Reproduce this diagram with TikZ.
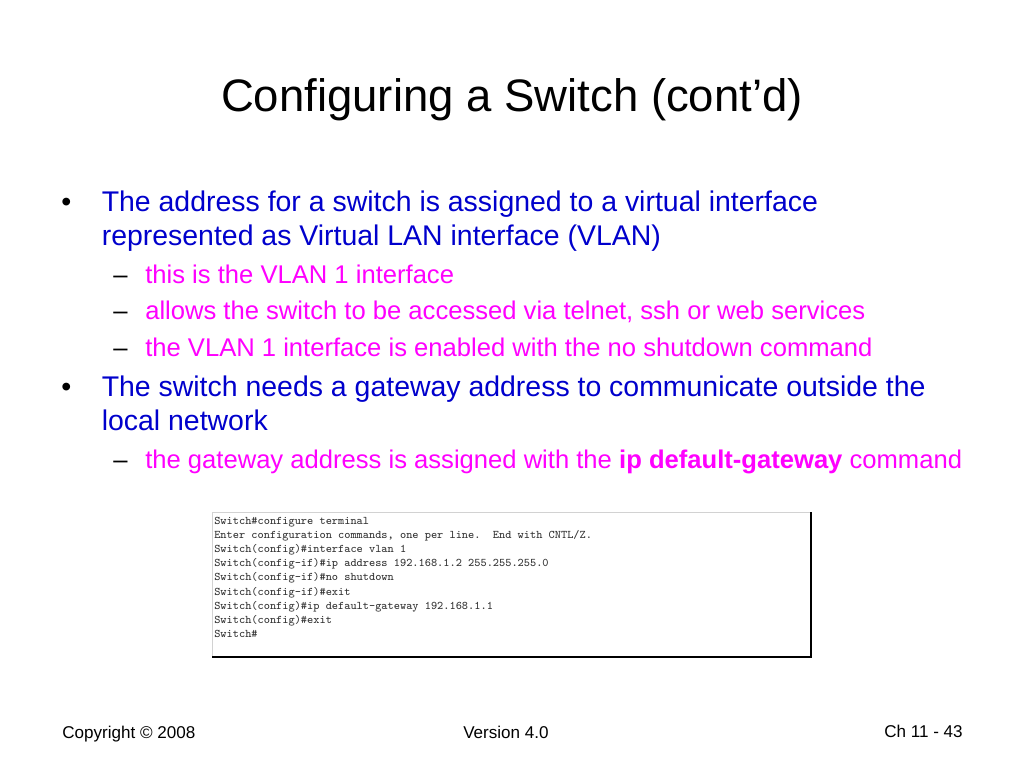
\documentclass[tikz,border=0pt]{standalone}
\usepackage{fontspec}
\setmainfont{Liberation Sans}
\usepackage{xcolor}
\definecolor{PtBlue}{RGB}{0,0,204}
\definecolor{SubPink}{RGB}{255,0,255}
\definecolor{TermGray}{RGB}{50,50,50}

\begin{document}
\begin{tikzpicture}[x=0.703125pt,y=-0.703125pt,
    every node/.style={inner sep=0pt,anchor=base west},
    titletext/.style={font=\fontsize{32}{38}\selectfont,anchor=base},
    pttext/.style={font=\fontsize{20}{24}\selectfont,text=PtBlue},
    ptmark/.style={font=\fontsize{20}{24}\selectfont},
    subtext/.style={font=\fontsize{18}{22}\selectfont,text=SubPink},
    submark/.style={font=\fontsize{18}{22}\selectfont},
    foottext/.style={font=\fontsize{12}{14}\selectfont},
    termline/.style={font=\ttfamily\fontsize{8.2}{10}\selectfont,text=TermGray}]
    \fill[white] (0,0) rectangle (1024,768);
    \useasboundingbox (0,0) rectangle (1024,768);

    \node[titletext] (title) at (512,112) {Configuring a Switch (cont’d)};

    % first point
    \node[ptmark] (dot1) at (61,211.7) {•};
    \node[pttext] (pt1) at (101.5,211.7) {The address for a switch is assigned to a virtual interface};
    \node[pttext] (pt1b) at (101.5,245.3) {represented as Virtual LAN interface (VLAN)};
    \foreach \y/\txt [count=\i] in {283.3/{this is the VLAN 1 interface},
        320/{allows the switch to be accessed via telnet, ssh or web services},
        356.7/{the VLAN 1 interface is enabled with the no shutdown command}}
    {
        \node[submark] (dash\i) at (113,\y) {–};
        \node[subtext] (sub\i) at (145,\y) {\txt};
    }

    % second point
    \node[ptmark] (dot2) at (61,396.7) {•};
    \node[pttext] (pt2) at (101.5,396.7) {The switch needs a gateway address to communicate outside the};
    \node[pttext] (pt2b) at (101.5,430.3) {local network};
    \node[submark] (dash4) at (113,468.3) {–};
    \node[subtext] (sub4) at (145,468.3) {the gateway address is assigned with the \textbf{ip default-gateway} command};

    % terminal screenshot
    \coordinate (termtl) at (212,512);
    \coordinate (termbr) at (811,657);
    \draw[gray!35, line width=0.7pt] (termtl |- termbr) -- (termtl) -- (termtl -| termbr);
    \draw[black, line width=0.9pt] (termtl -| termbr) -- (termbr) -- (termtl |- termbr);
    \foreach \ln [count=\i from 0] in {{Switch\#configure terminal},
        {Enter configuration commands, one per line.\ \ End with CNTL/Z.},
        {Switch(config)\#interface vlan 1},
        {Switch(config-if)\#ip address 192.168.1.2 255.255.255.0},
        {Switch(config-if)\#no shutdown},
        {Switch(config-if)\#exit},
        {Switch(config)\#ip default-gateway 192.168.1.1},
        {Switch(config)\#exit},
        {Switch\#}}
        \node[termline] (term\i) at (214,524+14.2*\i) {\ln};

    % footer
    \node[foottext] (copy) at (62,738) {Copyright © 2008};
    \node[foottext] (ver) at (463,738.5) {Version 4.0};
    \node[foottext] (chap) at (884,737) {Ch 11 - 43};
\end{tikzpicture}
\end{document}
